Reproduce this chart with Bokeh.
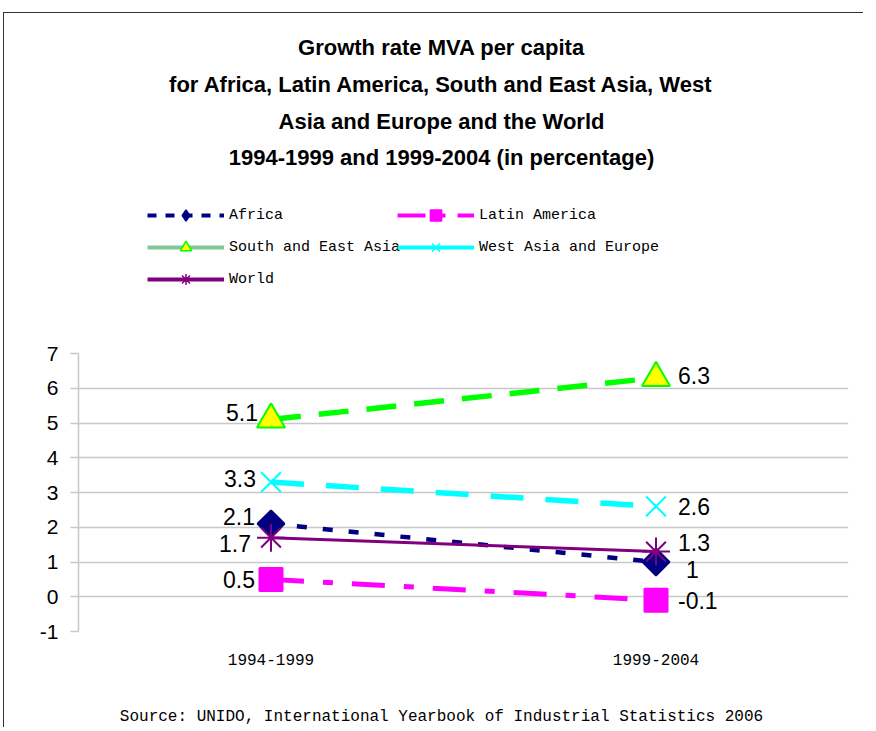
from bokeh.plotting import figure
from bokeh.layouts import column
from bokeh.models import (ColumnDataSource, Legend, LegendItem, FactorRange,
                          Range1d, FixedTicker, Label)
from bokeh.core.properties import value
from bokeh.embed import file_html
from bokeh.resources import INLINE

# ---------------- data ----------------
periods = ["1994-1999", "1999-2004"]
africa = [2.1, 1.0]
latin_america = [0.5, -0.1]
south_east_asia = [5.1, 6.3]
west_asia_europe = [3.3, 2.6]
world = [1.7, 1.3]

africa_labels = ["2.1", "1"]
latin_america_labels = ["0.5", "-0.1"]
south_east_asia_labels = ["5.1", "6.3"]
west_asia_europe_labels = ["3.3", "2.6"]
world_labels = ["1.7", "1.3"]

y_ticks = [-1, 0, 1, 2, 3, 4, 5, 6, 7]
y_tick_labels = ["-1", "0", "1", "2", "3", "4", "5", "6", "7"]

series_names = ["Africa", "Latin America", "South and East Asia",
                "West Asia and Europe", "World"]

title_lines = ["Growth rate MVA per capita",
               "for Africa, Latin America, South and East Asia, West",
               "Asia and Europe and the World",
               "1994-1999 and 1999-2004 (in percentage)"]
source_text = "Source: UNIDO, International Yearbook of Industrial Statistics 2006"

# ---------------- styles ----------------
styles = {
    "Africa": dict(vals=africa, labels=africa_labels, color="#000080", dash="10 16", lw=4.5,
                   marker="square", angle=0.785, size=19, fill="#000080", mline="#000080",
                   leg_marker="diamond", leg_color="#000080", leg_dash="9 9", leg_width=4,
                   leg_size=13, off=[(-16, -7, "right"), (30, 7, "left")]),
    "Latin America": dict(vals=latin_america, labels=latin_america_labels, color="#FF00FF",
                          dash="33 19 10 19", lw=5, marker="square", angle=0, size=23,
                          fill="#FF00FF", mline="#FF00FF", leg_marker="square",
                          leg_color="#FF00FF", leg_dash="28 12 8 12", leg_width=4,
                          leg_size=11, off=[(-16, 0, "right"), (22, 0, "left")]),
    "South and East Asia": dict(vals=south_east_asia, labels=south_east_asia_labels,
                                color="#00FF00", dash="30 18", lw=5.5, marker="triangle",
                                angle=0, size=28, fill="#FFFF00", mline="#00FF00",
                                leg_marker="triangle", leg_color="#80C896",
                                leg_dash="solid", leg_width=4, leg_size=11,
                                off=[(-13, -7, "right"), (22, -2, "left")]),
    "West Asia and Europe": dict(vals=west_asia_europe, labels=west_asia_europe_labels,
                                 color="#00FFFF", dash="33 22", lw=5.5, marker="x", angle=0,
                                 size=28, fill="#00FFFF", mline="#00FFFF", leg_marker="x",
                                 leg_color="#00FFFF", leg_dash="solid", leg_width=4,
                                 leg_size=11, off=[(-15, -4, "right"), (22, 0, "left")]),
    "World": dict(vals=world, labels=world_labels, color="#800080", dash="solid", lw=3,
                  marker="asterisk", angle=0, size=28, fill="#800080", mline="#800080",
                  leg_marker="asterisk", leg_color="#800080", leg_dash="solid",
                  leg_width=4, leg_size=11, off=[(-20, 6, "right"), (22, -9, "left")]),
}

W = 860
FRAME_W = 770
BORDER_L = 74
BORDER_R = 16
H_HEAD = 327
H_MAIN = 340
H_FOOT = 48


def blank_figure(height):
    f = figure(width=W, height=height, x_range=Range1d(0, FRAME_W),
               y_range=Range1d(0, height), output_backend="svg", toolbar_location=None,
               min_border=0, min_border_left=BORDER_L, min_border_right=BORDER_R,
               min_border_top=0, min_border_bottom=0)
    f.axis.visible = False
    f.grid.visible = False
    f.outline_line_color = None
    return f


# ---------------- header (title + legend) ----------------
head = blank_figure(H_HEAD)
head.styles = {"border-left": "1px solid #333333", "border-top": "1px solid #333333"}

title_centers_y = [34, 71, 108, 144]  # px from top of header
for line, cy in zip(title_lines, title_centers_y):
    head.add_layout(Label(x=FRAME_W / 2 - 22, y=H_HEAD - cy, text=line, text_align="center",
                          text_baseline="middle", text_font="Liberation Sans",
                          text_font_size="22px", text_font_style="bold",
                          text_color="black"))

legend_items = {}
for name in series_names:
    s = styles[name]
    nan_src = ColumnDataSource(dict(x=[0, 1], y=[float("nan")] * 2))
    lr = head.line("x", "y", source=nan_src, line_color=s["leg_color"],
                   line_width=s["leg_width"], line_dash=s["leg_dash"])
    sr = head.scatter("x", "y", source=nan_src, marker=s["leg_marker"], size=s["leg_size"],
                      fill_color=s["fill"], line_color=s["mline"], line_width=1.5)
    legend_items[name] = LegendItem(label=name, renderers=[lr, sr])


def make_legend(names, loc):
    return Legend(items=[legend_items[n] for n in names], location=loc,
                  glyph_width=77, glyph_height=28, spacing=4, padding=0, margin=0,
                  label_standoff=5, label_text_font="Liberation Mono",
                  label_text_font_size="15px", label_text_color="black",
                  border_line_color=None, background_fill_alpha=0)


head.add_layout(make_legend(["Africa", "South and East Asia", "World"], (69, 47)), "center")
head.add_layout(make_legend(["Latin America", "West Asia and Europe"], (319, 79)), "center")

# ---------------- main chart ----------------
p = figure(x_range=FactorRange(factors=periods), y_range=Range1d(-1, 7),
           width=W, height=H_MAIN, output_backend="svg", toolbar_location=None,
           min_border_left=BORDER_L, min_border_right=BORDER_R, min_border_top=14,
           min_border_bottom=48)
p.styles = {"border-left": "1px solid #333333"}
p.outline_line_color = None

p.xgrid.grid_line_color = None
p.ygrid.grid_line_color = "#C8C8C8"
p.ygrid.grid_line_width = 1.5
p.yaxis.ticker = FixedTicker(ticks=y_ticks)
p.yaxis.major_label_overrides = dict(zip(y_ticks, y_tick_labels))
p.yaxis.axis_line_color = "#C8C8C8"
p.yaxis.axis_line_width = 1.5
p.yaxis.major_tick_line_color = "#C8C8C8"
p.yaxis.major_tick_line_width = 1.5
p.yaxis.major_tick_out = 8
p.yaxis.major_tick_in = 0
p.yaxis.minor_tick_line_color = None
p.yaxis.major_label_standoff = 12
p.yaxis.major_label_text_font = "Liberation Sans"
p.yaxis.major_label_text_font_size = "21px"
p.yaxis.major_label_text_color = "black"

p.xaxis.axis_line_color = None
p.xaxis.major_tick_line_color = None
p.xaxis.minor_tick_line_color = None
p.xaxis.major_label_standoff = 16
p.xaxis.major_label_text_font = "Liberation Mono"
p.xaxis.major_label_text_font_size = "16px"
p.xaxis.major_label_text_color = "black"

for name in series_names:
    s = styles[name]
    src = ColumnDataSource(dict(x=periods, y=s["vals"]))
    p.line("x", "y", source=src, line_color=s["color"], line_width=s["lw"],
           line_dash=s["dash"])
    p.scatter("x", "y", source=src, marker=s["marker"], size=s["size"], angle=s["angle"],
              fill_color=s["fill"], line_color=s["mline"], line_width=2)
    for i in range(len(periods)):
        dx, dy, al = s["off"][i]
        p.text(x=[periods[i]], y=[s["vals"][i]], text=[s["labels"][i]],
               x_offset=dx, y_offset=dy, text_align=al, text_baseline="middle",
               text_font=value("Liberation Sans"), text_font_size="23px",
               text_color="black")

# ---------------- footer (source) ----------------
foot = blank_figure(H_FOOT)
foot.styles = {"border-left": "1px solid #333333"}
foot.add_layout(Label(x=FRAME_W / 2 - 22, y=H_FOOT - 37, text=source_text,
                      text_align="center", text_baseline="middle",
                      text_font="Liberation Mono", text_font_size="16px",
                      text_color="black"))

layout = column(head, p, foot, spacing=0)
layout.styles = {"margin-left": "3px", "margin-top": "12px"}
open("out.html", "w").write(file_html(layout, INLINE))
